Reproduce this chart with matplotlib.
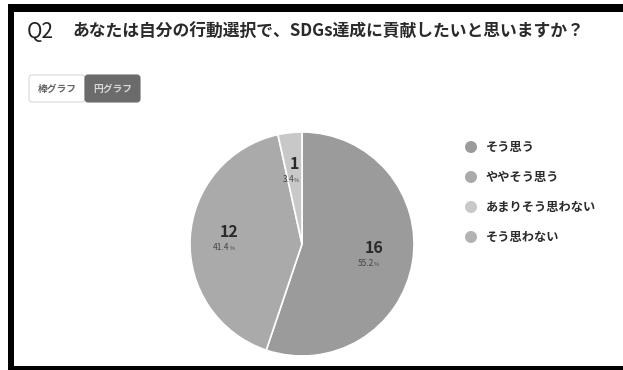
import matplotlib
matplotlib.use("Agg")
import matplotlib.pyplot as plt
from matplotlib.patches import Rectangle, FancyBboxPatch, Circle
import numpy as np

plt.rcParams['font.family'] = ['Noto Sans CJK JP', 'DejaVu Sans']

# Survey answers and counts
question_no = "Q2"
question = "あなたは自分の行動選択で、SDGs達成に貢献したいと思いますか？"
categories = ["そう思う", "ややそう思う", "あまりそう思わない", "そう思わない"]
counts = [16, 12, 1, 0]
colors = ["#9b9b9b", "#aaaaaa", "#c8c8c8", "#b3b3b3"]
tab_labels = ["棒グラフ", "円グラフ"]

W, H = 623, 370
fig = plt.figure(figsize=(W / 100, H / 100), dpi=100)
fig.patch.set_facecolor("white")

# Overlay axes in pixel coordinates (origin top-left)
bg = fig.add_axes([0, 0, 1, 1])
bg.set_xlim(0, W)
bg.set_ylim(H, 0)
bg.axis("off")

# Dark frame on the left, top and bottom
bg.add_patch(Rectangle((8, 4), W - 8, 8, color="black", lw=0))
bg.add_patch(Rectangle((8, 4), 6, H - 4, color="black", lw=0))
bg.add_patch(Rectangle((8, 366), W - 8, 4, color="black", lw=0))

# Title
bg.text(27, 32, question_no, fontsize=15, color="#222222", va="center", ha="left")
bg.text(72, 32, question, fontsize=12.1, fontweight="bold", color="#2a2a2a",
        va="center", ha="left")

# Chart type toggle
bg.add_patch(FancyBboxPatch((29, 75), 56, 27, boxstyle="round,pad=0,rounding_size=3",
                            fc="white", ec="#d8d8d8", lw=0.8))
bg.add_patch(FancyBboxPatch((85, 75), 55, 27, boxstyle="round,pad=0,rounding_size=3",
                            fc="#6b6b6b", ec="#6b6b6b", lw=0.8))
bg.text(57, 88.5, tab_labels[0], fontsize=7, fontweight="bold", color="#666666",
        ha="center", va="center")
bg.text(112.5, 88.5, tab_labels[1], fontsize=7, fontweight="bold", color="#d8d8d8",
        ha="center", va="center")

# Legend
for i, (lab, col) in enumerate(zip(categories, colors)):
    y = 147 + i * 30
    bg.add_patch(Circle((471, y), 6, color=col, lw=0))
    bg.text(486, y, lab, fontsize=8.8, fontweight="bold", color="#2a2a2a",
            ha="left", va="center")

# Pie chart
cx, cy, r = 302, 244, 112
pax = fig.add_axes([(cx - r) / W, (H - cy - r) / H, 2 * r / W, 2 * r / H])
vals = [v for v in counts if v > 0]
cols = [c for v, c in zip(counts, colors) if v > 0]
wedges, _ = pax.pie(vals, colors=cols, startangle=90, counterclock=False,
                    wedgeprops=dict(edgecolor="white", linewidth=1.2))
pax.set_xlim(-1, 1)
pax.set_ylim(-1, 1)
pax.set_aspect("equal")
pax.axis("off")

total = sum(counts)
for w, v in zip(wedges, vals):
    mid = np.deg2rad((w.theta1 + w.theta2) / 2)
    x, y = 0.65 * np.cos(mid), 0.65 * np.sin(mid)
    pax.text(x, y + 0.07, f"{v}", fontsize=11.5, fontweight="bold", color="#2a2a2a",
             ha="center", va="center")
    pax.text(x, y - 0.07, f"{v / total * 100:.1f}", fontsize=6, color="#444444",
             ha="right", va="center")
    pax.text(x, y - 0.075, "%", fontsize=4, color="#444444", ha="left", va="center")

fig.savefig("out.png", dpi=100, facecolor="white")
